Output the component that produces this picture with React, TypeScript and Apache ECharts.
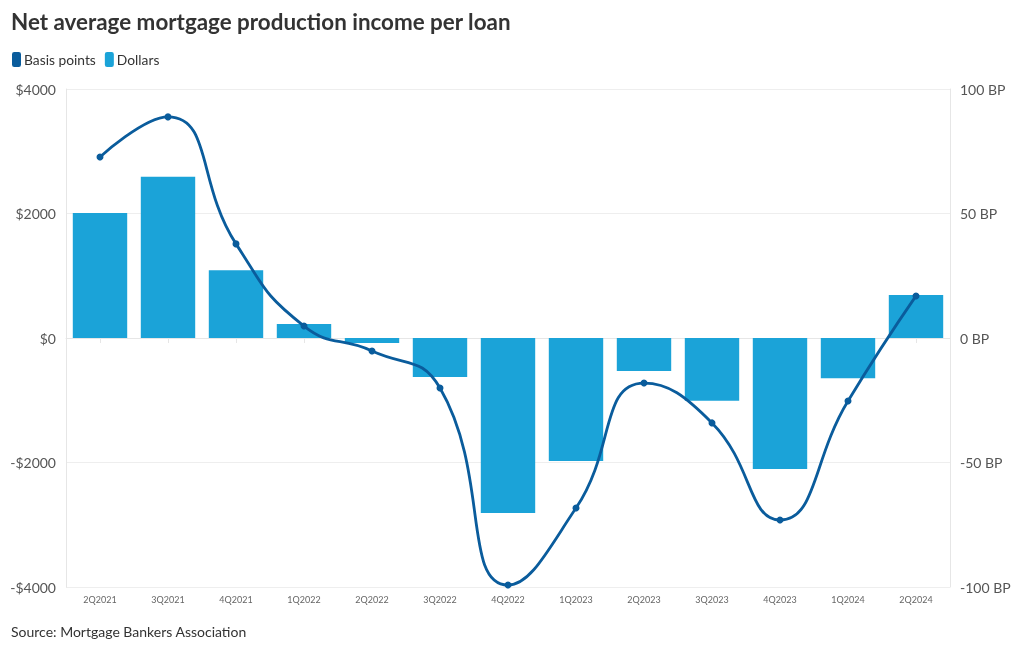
import React, { useEffect, useRef } from "react";
import * as echarts from "echarts";

const categories = ["2Q2021", "3Q2021", "4Q2021", "1Q2022", "2Q2022", "3Q2022", "4Q2022", "1Q2023", "2Q2023", "3Q2023", "4Q2023", "1Q2024", "2Q2024"];
const dollars = [2010, 2590, 1090, 225, -80, -625, -2810, -1975, -530, -1010, -2105, -645, 690];
const basisPoints = [72.7, 88.8, 37.8, 4.8, -5.2, -20.1, -99.2, -68.3, -18.1, -34.1, -73.1, -25.3, 16.9];
const leftTicks = { min: -4000, max: 4000, interval: 2000 };
const rightTicks = { min: -100, max: 100, interval: 50 };

const FONT = "Lato, 'Noto Sans', sans-serif";

export default function App() {
  const ref = useRef<HTMLDivElement>(null);
  useEffect(() => {
    if (!ref.current) return;
    const chart = echarts.init(ref.current, undefined, { renderer: "svg" });
    chart.setOption({
      animation: false,
      textStyle: { fontFamily: FONT },
      title: {
        text: "Net average mortgage production income per loan",
        left: 6,
        top: 5,
        textStyle: { fontSize: 22.4, fontWeight: "bold", color: "#333", fontFamily: FONT },
      },
      legend: {
        left: 7,
        top: 47,
        icon: "roundRect",
        itemWidth: 9,
        itemHeight: 15,
        itemGap: 9,
        textStyle: { fontSize: 13.8, color: "#333", fontFamily: FONT, padding: [0, 0, 0, -2] },
        data: ["Basis points", "Dollars"],
      },
      grid: { left: 66, right: 70, top: 89, bottom: 63, containLabel: false },
      xAxis: {
        type: "category",
        data: categories,
        axisLine: { show: true, lineStyle: { color: "#e6e6e6" } },
        axisTick: { show: true, alignWithLabel: true, length: 5, lineStyle: { color: "#e6e6e6" } },
        axisLabel: { fontSize: 9, color: "#666", margin: 8, fontFamily: FONT },
      },
      yAxis: [
        {
          type: "value",
          min: leftTicks.min,
          max: leftTicks.max,
          interval: leftTicks.interval,
          axisLine: { show: true, lineStyle: { color: "#e6e6e6" } },
          axisTick: { show: false },
          splitLine: { show: true, lineStyle: { color: "#eeeeee" } },
          axisLabel: {
            fontSize: 14,
            color: "#555",
            margin: 10,
            fontFamily: FONT,
            formatter: (v: number) => (v < 0 ? "-$" + Math.abs(v) : "$" + v),
          },
        },
        {
          type: "value",
          min: rightTicks.min,
          max: rightTicks.max,
          interval: rightTicks.interval,
          position: "right",
          axisLine: { show: true, lineStyle: { color: "#e6e6e6" } },
          axisTick: { show: false },
          splitLine: { show: false },
          axisLabel: {
            fontSize: 14,
            color: "#555",
            margin: 10,
            fontFamily: FONT,
            formatter: (v: number) => v + " BP",
          },
        },
      ],
      series: [
        {
          name: "Basis points",
          type: "line",
          yAxisIndex: 1,
          data: basisPoints,
          smooth: 0.5,
          symbol: "circle",
          symbolSize: 7,
          z: 3,
          itemStyle: { color: "#0a5c9c" },
          lineStyle: { color: "#0a5c9c", width: 2.8 },
        },
        {
          name: "Dollars",
          type: "bar",
          yAxisIndex: 0,
          data: dollars,
          barCategoryGap: "20%",
          itemStyle: { color: "#1ba3d8" },
          z: 2,
        },
      ],
      graphic: [
        {
          type: "text",
          left: 11,
          top: 624,
          style: { text: "Source: Mortgage Bankers Association", fontSize: 14, fill: "#333", fontFamily: FONT },
        },
      ],
    });
    return () => chart.dispose();
  }, []);
  return <div ref={ref} style={{ position: "fixed", left: 0, top: 0, width: 1020, height: 650 }} />;
}
